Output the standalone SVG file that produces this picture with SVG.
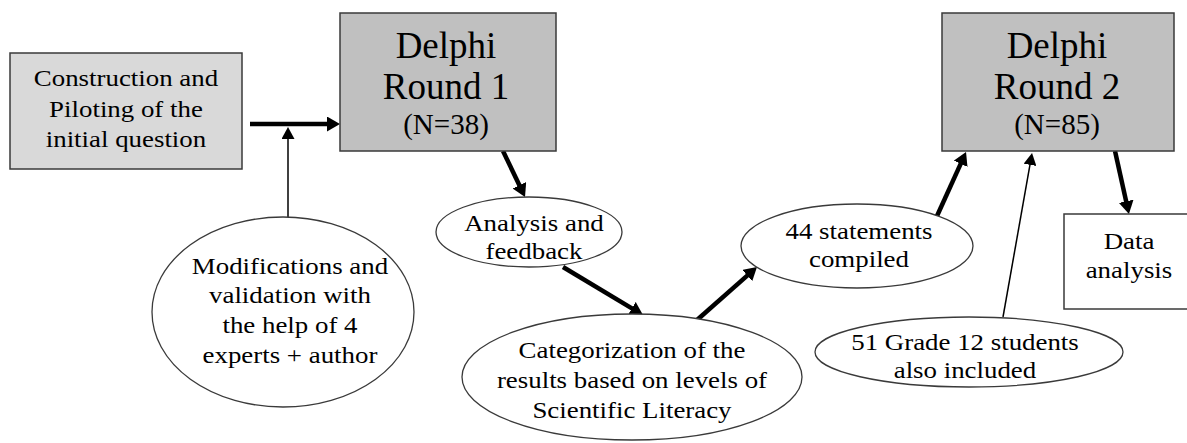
<svg xmlns="http://www.w3.org/2000/svg" width="1187" height="443" viewBox="0 0 1187 443">
<style>
.box{stroke:#3a3a3a;stroke-width:1.5}
.ell{fill:#fff;stroke:#3a3a3a;stroke-width:1.3}
text{font-family:'Liberation Serif','Times New Roman',Times,serif;fill:#000;text-anchor:middle}
.s{font-size:24px;transform-box:fill-box;transform-origin:center;transform:scaleX(1.12)}
.big{font-size:37px}
.n{font-size:29px}
.thick{fill:none;stroke:#000;stroke-width:4.5}
.thin{fill:none;stroke:#000;stroke-width:1.5}
</style>
<defs>
<marker id="ah" markerUnits="userSpaceOnUse" markerWidth="13" markerHeight="15" refX="3" refY="7.5" orient="auto"><path d="M0,0 L13,7.5 L0,15 z" fill="#000"/></marker>
<marker id="ahs" markerUnits="userSpaceOnUse" markerWidth="12" markerHeight="13" refX="2" refY="6.5" orient="auto"><path d="M0,0 L12,6.5 L0,13 z" fill="#000"/></marker>
</defs>
<rect width="1187" height="443" fill="#fff"/>
<g id="connectors">
<path class="thick" d="M250,124 L330,124" marker-end="url(#ah)"/>
<path class="thin" d="M288,217 L288,137" marker-end="url(#ahs)"/>
<path class="thick" d="M503,151 L520.7,188" marker-end="url(#ah)"/>
<path class="thick" d="M563,267 L634.4,309.9" marker-end="url(#ah)"/>
<path class="thick" d="M697,320 L749.5,273.6" marker-end="url(#ah)"/>
<path class="thick" d="M937,216 L961.9,161.1" marker-end="url(#ah)"/>
<path class="thin" d="M1003,317 L1030.3,162.9" marker-end="url(#ahs)"/>
<path class="thick" d="M1115,151 L1126.8,204.2" marker-end="url(#ah)"/>
</g>
<g id="construction" font-family="Liberation Serif">
<rect class="box" x="10" y="53" width="232" height="116" fill="#d9d9d9"/>
<text class="s" x="126" y="86" font-family="Liberation Serif">Construction and</text>
<text class="s" x="126" y="117">Piloting of the</text>
<text class="s" x="126" y="147">initial question</text>
</g>
<g id="round1">
<rect class="box" x="340" y="13" width="216" height="138" fill="#c0c0c0"/>
<text class="big" x="446" y="58">Delphi</text>
<text class="big" x="446" y="99">Round 1</text>
<text class="n" x="446" y="134">(N=38)</text>
</g>
<g id="round2">
<rect class="box" x="942" y="13" width="232" height="138" fill="#c0c0c0"/>
<text class="big" x="1057" y="58">Delphi</text>
<text class="big" x="1057" y="99">Round 2</text>
<text class="n" x="1057" y="134">(N=85)</text>
</g>
<g id="data">
<rect class="box" x="1064" y="214" width="130" height="95" fill="#fff"/>
<text class="s" x="1129" y="249">Data</text>
<text class="s" x="1129" y="278">analysis</text>
</g>
<g id="modifications">
<ellipse class="ell" cx="283" cy="312" rx="131" ry="95"/>
<text class="s" x="290" y="274">Modifications and</text>
<text class="s" x="290" y="303">validation with</text>
<text class="s" x="290" y="333">the help of 4</text>
<text class="s" x="290" y="363">experts + author</text>
</g>
<g id="analysis">
<ellipse class="ell" cx="529" cy="232" rx="93" ry="35"/>
<text class="s" x="534" y="231">Analysis and</text>
<text class="s" x="534" y="259">feedback</text>
</g>
<g id="categorization">
<ellipse class="ell" cx="632" cy="377" rx="170" ry="63"/>
<text class="s" x="632" y="358">Categorization of the</text>
<text class="s" x="632" y="388">results based on levels of</text>
<text class="s" x="632" y="418">Scientific Literacy</text>
</g>
<g id="statements">
<ellipse class="ell" cx="857" cy="246" rx="116" ry="42"/>
<text class="s" x="859" y="239">44 statements</text>
<text class="s" x="859" y="267">compiled</text>
</g>
<g id="grade12">
<ellipse class="ell" cx="969" cy="352" rx="154" ry="35"/>
<text class="s" x="965" y="350">51 Grade 12 students</text>
<text class="s" x="965" y="378">also included</text>
</g>
</svg>
